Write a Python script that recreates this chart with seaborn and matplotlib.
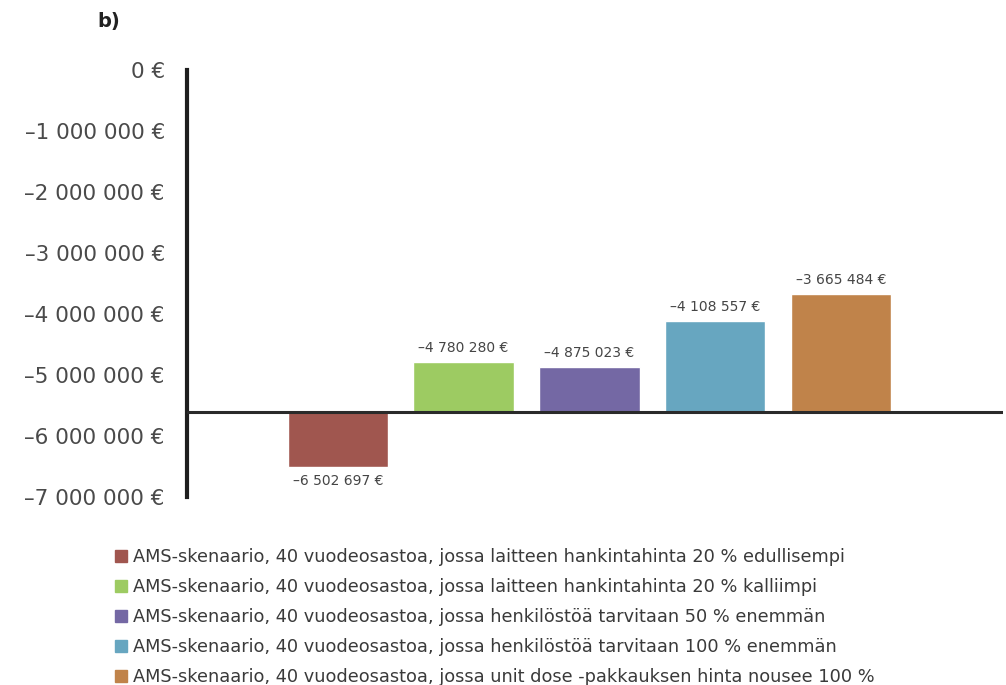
import matplotlib
matplotlib.use("Agg")
import matplotlib.pyplot as plt
from matplotlib.lines import Line2D
import seaborn as sns
import pandas as pd

scenarios = [
    "AMS-skenaario, 40 vuodeosastoa, jossa laitteen hankintahinta 20 % edullisempi",
    "AMS-skenaario, 40 vuodeosastoa, jossa laitteen hankintahinta 20 % kalliimpi",
    "AMS-skenaario, 40 vuodeosastoa, jossa henkilöstöä tarvitaan 50 % enemmän",
    "AMS-skenaario, 40 vuodeosastoa, jossa henkilöstöä tarvitaan 100 % enemmän",
    "AMS-skenaario, 40 vuodeosastoa, jossa unit dose -pakkauksen hinta nousee 100 %",
]
values = [-6502697, -4780280, -4875023, -4108557, -3665484]
colors = ["#A0564F", "#9DCB62", "#7468A4", "#67A6C0", "#C0834A"]
baseline = -5600000
yticks = [0, -1000000, -2000000, -3000000, -4000000, -5000000, -6000000, -7000000]


def euro(v):
    s = f"{abs(v):,}".replace(",", " ")
    return ("–" if v < 0 else "") + s + " €"


df = pd.DataFrame({"scenario": scenarios, "value": values})
df["rel"] = df["value"] - baseline

sns.set_style("white")
plt.rcParams["font.family"] = ["DejaVu Sans"]

fig = plt.figure(figsize=(10.06, 6.85), dpi=100)
ax = fig.add_axes([187 / 1006, 1 - 497 / 685, (1003 - 187) / 1006, (497 - 70) / 685])

sns.barplot(data=df, x="scenario", y="rel", hue="scenario", palette=colors,
            bottom=baseline, width=0.8, legend=False, ax=ax, saturation=1)

for cont, v in zip(ax.containers, values):
    ax.bar_label(cont, labels=[euro(v)], padding=5, fontsize=10, color="#454545")

ax.axhline(baseline, color="#2a2a2a", lw=2.2, zorder=3)
ax.set_ylim(-7000000, 0)
ax.set_xlim(-1.2, 5.29)
ax.set_yticks(yticks)
ax.set_yticklabels([euro(t) for t in yticks], fontsize=15.5, color="#4a4a4a")
ax.set_xticks([])
ax.set_xlabel("")
ax.set_ylabel("")
ax.tick_params(axis="y", length=0, pad=16)
for side in ["top", "right", "bottom"]:
    ax.spines[side].set_visible(False)
ax.spines["left"].set_linewidth(3)
ax.spines["left"].set_color("#1e1e1e")

fig.text(97 / 1006, 1 - 22 / 685, "b)", fontsize=14, fontweight="bold",
         va="center", ha="left", color="#222222")

handles = [Line2D([0], [0], marker="s", linestyle="none", markersize=9,
                  markerfacecolor=c, markeredgecolor=c) for c in colors]
fig.legend(handles, scenarios, loc="upper left",
           bbox_to_anchor=(106 / 1006, 1 - 539 / 685), frameon=False,
           fontsize=12.8, handlelength=0.7, handletextpad=0.3,
           labelspacing=0.68, borderpad=0, labelcolor="#3a3a3a")

fig.savefig("out.png", dpi=100)
